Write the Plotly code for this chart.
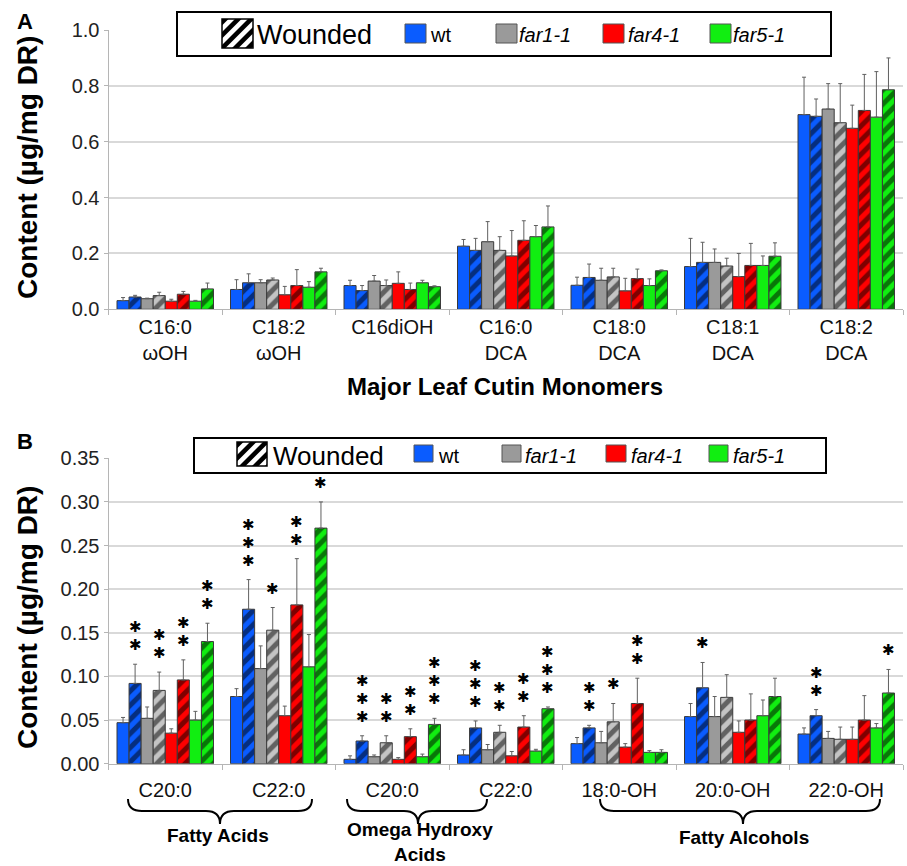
import plotly.graph_objects as go

W, H = 907, 866
FONT = "Liberation Sans, Arial, sans-serif"

# ---------------- data: panel A (major leaf cutin monomers) ----------------
cats_a = ["C16:0<br>ωOH", "C18:2<br>ωOH", "C16diOH", "C16:0<br>DCA",
          "C18:0<br>DCA", "C18:1<br>DCA", "C18:2<br>DCA"]
wt_a      = [0.031, 0.071, 0.085, 0.226, 0.086, 0.153, 0.697]
wt_a_sd   = [0.011, 0.035, 0.019, 0.024, 0.029, 0.101, 0.134]
wtW_a     = [0.044, 0.095, 0.067, 0.211, 0.114, 0.168, 0.691]
wtW_a_sd  = [0.006, 0.032, 0.018, 0.043, 0.048, 0.072, 0.062]
f1_a      = [0.038, 0.095, 0.101, 0.242, 0.104, 0.168, 0.717]
f1_a_sd   = [0.002, 0.011, 0.020, 0.072, 0.043, 0.048, 0.091]
f1W_a     = [0.049, 0.105, 0.085, 0.211, 0.116, 0.155, 0.668]
f1W_a_sd  = [0.012, 0.007, 0.020, 0.049, 0.031, 0.028, 0.140]
f4_a      = [0.029, 0.052, 0.093, 0.191, 0.066, 0.117, 0.648]
f4_a_sd   = [0.007, 0.030, 0.041, 0.091, 0.045, 0.083, 0.083]
f4W_a     = [0.054, 0.085, 0.071, 0.247, 0.110, 0.157, 0.712]
f4W_a_sd  = [0.010, 0.057, 0.023, 0.070, 0.034, 0.079, 0.129]
f5_a      = [0.029, 0.079, 0.095, 0.260, 0.085, 0.157, 0.688]
f5_a_sd   = [0.003, 0.020, 0.009, 0.040, 0.024, 0.034, 0.163]
f5W_a     = [0.073, 0.134, 0.081, 0.295, 0.138, 0.190, 0.786]
f5W_a_sd  = [0.021, 0.013, 0.003, 0.075, 0.003, 0.048, 0.114]

# ---------------- data: panel B (minor monomers) ----------------
cats_b  = ["FA C20:0", "FA C22:0", "wOH C20:0", "wOH C22:0", "18:0-OH", "20:0-OH", "22:0-OH"]
ticks_b = ["C20:0", "C22:0", "C20:0", "C22:0", "18:0-OH", "20:0-OH", "22:0-OH"]
wt_b      = [0.047, 0.077, 0.005, 0.010, 0.023, 0.054, 0.034]
wt_b_sd   = [0.006, 0.009, 0.004, 0.006, 0.007, 0.015, 0.007]
wtW_b     = [0.092, 0.177, 0.026, 0.041, 0.041, 0.087, 0.055]
wtW_b_sd  = [0.022, 0.034, 0.006, 0.008, 0.003, 0.029, 0.007]
f1_b      = [0.052, 0.109, 0.008, 0.016, 0.024, 0.054, 0.029]
f1_b_sd   = [0.013, 0.026, 0.002, 0.006, 0.013, 0.023, 0.008]
f1W_b     = [0.084, 0.153, 0.024, 0.036, 0.048, 0.076, 0.028]
f1W_b_sd  = [0.021, 0.026, 0.008, 0.008, 0.021, 0.026, 0.014]
f4_b      = [0.035, 0.055, 0.005, 0.009, 0.019, 0.036, 0.028]
f4_b_sd   = [0.005, 0.011, 0.002, 0.005, 0.004, 0.013, 0.014]
f4W_b     = [0.096, 0.182, 0.031, 0.042, 0.069, 0.050, 0.050]
f4W_b_sd  = [0.023, 0.053, 0.009, 0.013, 0.029, 0.030, 0.028]
f5_b      = [0.050, 0.111, 0.008, 0.0145, 0.013, 0.055, 0.041]
f5_b_sd   = [0.010, 0.037, 0.003, 0.002, 0.002, 0.018, 0.005]
f5W_b     = [0.140, 0.270, 0.045, 0.063, 0.013, 0.077, 0.081]
f5W_b_sd  = [0.021, 0.030, 0.007, 0.002, 0.003, 0.021, 0.027]

# significance stars (count) for wounded bars in panel B
wtW_b_stars = [2, 3, 3, 3, 2, 1, 2]
f1W_b_stars = [2, 1, 2, 2, 1, 0, 0]
f4W_b_stars = [2, 2, 2, 2, 2, 0, 0]
f5W_b_stars = [2, 1, 3, 3, 0, 0, 1]

group_labels = ["Fatty Acids", "Omega Hydroxy<br>Acids", "Fatty Alcohols"]
series_names = ["wt", "far1-1", "far4-1", "far5-1"]
colors  = ["#0a5cff", "#9a9a9a", "#ff0000", "#11ee11"]
wcolors = ["#0a5cff", "#c4c4c4", "#ff0000", "#11ee11"]

def px(x):
    return x / W

def py(y):
    return 1 - y / H

fig = go.Figure()
BARGAP = 0.15
NTR = 8

def add_panel(xa, ya, cats, ctrl, ctrl_sd, wnd, wnd_sd):
    for s in range(4):
        fig.add_bar(
            x=cats, y=ctrl[s], xaxis=xa, yaxis=ya, showlegend=False,
            marker=dict(color=colors[s], line=dict(color="#3a3a3a", width=1)),
            error_y=dict(type="data", array=ctrl_sd[s], arrayminus=[0] * len(cats),
                         symmetric=False, color="#606060", thickness=1, width=2),
        )
        fig.add_bar(
            x=cats, y=wnd[s], xaxis=xa, yaxis=ya, showlegend=False,
            marker=dict(color=wcolors[s], line=dict(color="#3a3a3a", width=1),
                        pattern=dict(shape="/", fgcolor="black", bgcolor=wcolors[s],
                                     size=10, solidity=0.5, fillmode="overlay")),
            error_y=dict(type="data", array=wnd_sd[s], arrayminus=[0] * len(cats),
                         symmetric=False, color="#606060", thickness=1, width=2),
        )

add_panel("x", "y", cats_a,
          [wt_a, f1_a, f4_a, f5_a], [wt_a_sd, f1_a_sd, f4_a_sd, f5_a_sd],
          [wtW_a, f1W_a, f4W_a, f5W_a], [wtW_a_sd, f1W_a_sd, f4W_a_sd, f5W_a_sd])
add_panel("x2", "y2", cats_b,
          [wt_b, f1_b, f4_b, f5_b], [wt_b_sd, f1_b_sd, f4_b_sd, f5_b_sd],
          [wtW_b, f1W_b, f4W_b, f5W_b], [wtW_b_sd, f1W_b_sd, f4W_b_sd, f5W_b_sd])

annotations = []
shapes = []

def note(x, y, text, size, xanchor="center", yanchor="middle", **kw):
    d = dict(x=px(x), y=py(y), xref="paper", yref="paper", text=text, showarrow=False,
             xanchor=xanchor, yanchor=yanchor, font=dict(family=FONT, size=size, color="black"))
    d.update(kw)
    annotations.append(d)

# ---- stars above wounded bars in panel B (one stacked text per bar) ----
bw = (1 - BARGAP) / NTR
wnd_b = [wtW_b, f1W_b, f4W_b, f5W_b]
wnd_b_sd = [wtW_b_sd, f1W_b_sd, f4W_b_sd, f5W_b_sd]
stars_b = [wtW_b_stars, f1W_b_stars, f4W_b_stars, f5W_b_stars]
STAR = '<span style="font-family:DejaVu Sans;font-size:15px">\u2731</span>'
for s in range(4):
    j = 2 * s + 1
    off = -(1 - BARGAP) / 2 + bw * (j + 0.5)
    for i in range(len(cats_b)):
        n = stars_b[s][i]
        if n == 0:
            continue
        top = wnd_b[s][i] + wnd_b_sd[s][i]
        annotations.append(dict(
            x=i + off, y=top, xref="x2", yref="y2", text="<br>".join([STAR] * n),
            showarrow=False, xanchor="center", yanchor="bottom", yshift=9, borderpad=0,
            font=dict(family=FONT, size=13.8, color="black")))

# ---- manual legends ----
def clip_half(poly, a, b, c):
    out = []
    n = len(poly)
    for i in range(n):
        P = poly[i]
        Q = poly[(i + 1) % n]
        fp = a * P[0] + b * P[1] - c
        fq = a * Q[0] + b * Q[1] - c
        if fp <= 0:
            out.append(P)
        if fp * fq < 0:
            t = fp / (fp - fq)
            out.append((P[0] + t * (Q[0] - P[0]), P[1] + t * (Q[1] - P[1])))
    return out

def hatch_swatch(x0, x1, y0, y1, period, sw):
    shapes.append(dict(type="rect", xref="paper", yref="paper", x0=px(x0), x1=px(x1),
                       y0=py(y1), y1=py(y0), fillcolor="white",
                       line=dict(color="black", width=1.5), layer="above"))
    c = x0 + y0 - period
    while c < x1 + y1:
        poly = [(x0, y0), (x1, y0), (x1, y1), (x0, y1)]
        poly = clip_half(poly, -1, -1, -c)
        poly = clip_half(poly, 1, 1, c + sw)
        if len(poly) >= 3:
            path = "M " + " L ".join(f"{px(p[0]):.5f},{py(p[1]):.5f}" for p in poly) + " Z"
            shapes.append(dict(type="path", xref="paper", yref="paper", path=path,
                               fillcolor="black", line=dict(width=0), layer="above"))
        c += period

def legend(box, hatch, wlabel_x, wsize, items, ty, fsize):
    bx0, bx1, by0, by1 = box
    shapes.append(dict(type="rect", xref="paper", yref="paper", x0=px(bx0), x1=px(bx1),
                       y0=py(by1), y1=py(by0), fillcolor="white",
                       line=dict(color="black", width=2), layer="above"))
    hatch_swatch(*hatch, period=13, sw=6.5)
    note(wlabel_x, ty, "Wounded", wsize, xanchor="left")
    for s, (sx0, sx1, sy0, sy1, tx) in enumerate(items):
        shapes.append(dict(type="rect", xref="paper", yref="paper", x0=px(sx0), x1=px(sx1),
                           y0=py(sy1), y1=py(sy0), fillcolor=colors[s],
                           line=dict(color="#555555", width=1), layer="above"))
        label = series_names[s] if s == 0 else "<i>" + series_names[s] + "</i>"
        note(tx, ty, label, fsize, xanchor="left")

legend((177, 831, 12, 56), (222, 253, 19, 48), 255, 27,
       [(405, 426, 24, 43, 428), (496, 517, 24, 43, 517),
        (603, 624, 24, 43, 626), (710, 731, 24, 43, 731)], 35, 20)
legend((194, 826, 438, 473), (237, 267, 442, 466), 271, 26,
       [(414, 433, 445, 462, 436), (502, 521, 445, 462, 523),
        (606, 626, 445, 462, 629), (709, 728, 445, 462, 731)], 456, 20)

# ---- braces and group labels for panel B ----
def brace(xl, xr, xm, yt, ymid, yb):
    r = 14
    p = [f"M {px(xl):.5f},{py(yt):.5f}",
         f"Q {px(xl):.5f},{py(ymid):.5f} {px(xl + r):.5f},{py(ymid):.5f}",
         f"L {px(xm - r):.5f},{py(ymid):.5f}",
         f"Q {px(xm):.5f},{py(ymid):.5f} {px(xm):.5f},{py(yb):.5f}",
         f"Q {px(xm):.5f},{py(ymid):.5f} {px(xm + r):.5f},{py(ymid):.5f}",
         f"L {px(xr - r):.5f},{py(ymid):.5f}",
         f"Q {px(xr):.5f},{py(ymid):.5f} {px(xr):.5f},{py(yt):.5f}"]
    shapes.append(dict(type="path", xref="paper", yref="paper", path=" ".join(p),
                       line=dict(color="black", width=2)))

brace(128, 312, 220, 799, 811, 824)
brace(347, 487, 418, 799, 811, 824)
brace(600, 880, 743, 799, 811, 824)
for lbl, (lx, ly) in zip(group_labels, [(218, 835), (420, 842), (744, 837)]):
    note(lx, ly, "<b>" + lbl + "</b>", 19)

# ---- panel letters & axis titles ----
note(25, 22, "<b>A</b>", 22)
note(25, 441, "<b>B</b>", 22)
note(27, 168, "<b>Content (µg/mg DR)</b>", 28, textangle=-90)
note(27, 618, "<b>Content (µg/mg DR)</b>", 28, textangle=-90)
note(505, 386, "<b>Major Leaf Cutin Monomers</b>", 24)

AX = "#b5b5b5"
xbase = dict(type="category", tickson="boundaries", ticks="outside", ticklen=5, tickcolor=AX,
             showline=True, linecolor=AX, linewidth=1, showgrid=False, zeroline=False,
             automargin=False, tickfont=dict(family=FONT, size=20, color="#111"))
ybase = dict(showline=True, linecolor=AX, linewidth=1, ticks="outside", ticklen=4, tickcolor=AX,
             showgrid=True, gridcolor="#d9d9d9", gridwidth=1.5, zeroline=False,
             automargin=False, tickfont=dict(family=FONT, size=20, color="#222"))

xdom = [px(108.5), px(903)]
fig.update_layout(
    width=W, height=H, margin=dict(l=0, r=0, t=0, b=0, autoexpand=False),
    paper_bgcolor="white", plot_bgcolor="white",
    barmode="group", bargap=BARGAP, bargroupgap=0, showlegend=False,
    font=dict(family=FONT),
    xaxis=dict(xbase, domain=xdom, anchor="y"),
    yaxis=dict(ybase, domain=[py(309.3), py(30)], range=[0, 1.0], tickvals=[0, 0.2, 0.4, 0.6, 0.8, 1.0],
               tickformat=".1f", anchor="x"),
    xaxis2=dict(xbase, domain=xdom, anchor="y2", tickmode="array", tickvals=cats_b, ticktext=ticks_b,
                ticklabelstandoff=8),
    yaxis2=dict(ybase, domain=[py(763.7), py(458.3)], range=[0, 0.35],
                tickvals=[0, 0.05, 0.1, 0.15, 0.2, 0.25, 0.3, 0.35], tickformat=".2f", anchor="x2"),
    annotations=annotations, shapes=shapes,
)

fig.write_html("out.html")
